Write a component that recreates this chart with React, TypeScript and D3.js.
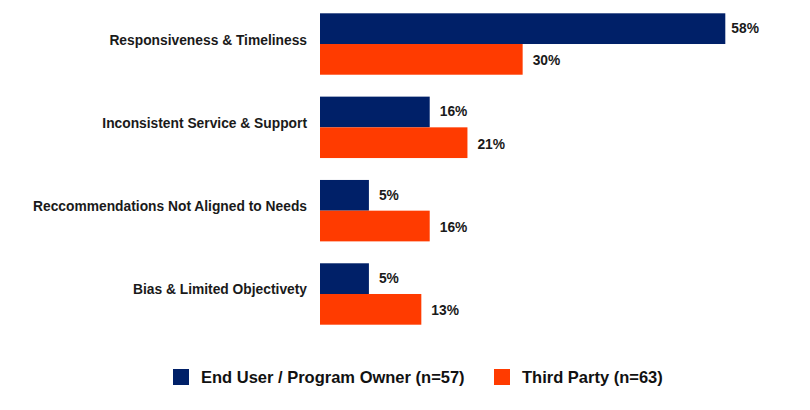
import * as d3 from 'd3';
import React, { useEffect, useRef } from 'react';

const categories = [
  'Responsiveness & Timeliness',
  'Inconsistent Service & Support',
  'Reccommendations Not Aligned to Needs',
  'Bias & Limited Objectivety',
];
const seriesNames = ['End User / Program Owner (n=57)', 'Third Party (n=63)'];
const seriesColors = ['#002068', '#FF3B00'];
// bar lengths (percent)
const endUserValues = [58, 15.7, 7, 7];
const thirdPartyValues = [29, 21.1, 15.7, 14.5];
// printed labels
const endUserLabels = ['58%', '16%', '5%', '5%'];
const thirdPartyLabels = ['30%', '21%', '16%', '13%'];

const W = 810;
const H = 410;

const App = () => {
  const ref = useRef<SVGSVGElement>(null);

  useEffect(() => {
    const svg = d3.select(ref.current);
    svg.selectAll('*').remove();

    const font = "'Liberation Sans', Arial, sans-serif";
    const values = [endUserValues, thirdPartyValues];
    const labels = [endUserLabels, thirdPartyLabels];

    const x = d3.scaleLinear().domain([0, 58]).range([320, 725.3]);
    const y = d3
      .scaleBand<string>()
      .domain(categories)
      .range([13.3, 324.7])
      .paddingInner(0.263)
      .paddingOuter(0);
    const ySub = d3
      .scaleBand<number>()
      .domain([0, 1])
      .range([0, y.bandwidth()])
      .padding(0);

    const groups = svg
      .selectAll('g.cat')
      .data(categories)
      .enter()
      .append('g')
      .attr('class', 'cat')
      .attr('transform', d => `translate(0,${y(d)})`);

    groups
      .append('text')
      .attr('x', 307)
      .attr('y', y.bandwidth() / 2 - 4)
      .attr('text-anchor', 'end')
      .attr('dominant-baseline', 'central')
      .attr('font-family', font)
      .attr('font-weight', 'bold')
      .attr('font-size', 13.8)
      .attr('fill', '#1a1a1a')
      .text(d => d);

    [0, 1].forEach(s => {
      groups
        .append('rect')
        .attr('x', x(0))
        .attr('y', ySub(s))
        .attr('width', (_, i) => x(values[s][i]) - x(0))
        .attr('height', ySub.bandwidth())
        .attr('fill', seriesColors[s]);

      groups
        .append('text')
        .attr('x', (_, i) => x(values[s][i]) + (s === 0 && i === 0 ? 6 : 10))
        .attr('y', ySub(s) + ySub.bandwidth() / 2 + (s === 1 ? 1.5 : 0))
        .attr('dominant-baseline', 'central')
        .attr('font-family', font)
        .attr('font-weight', 'bold')
        .attr('font-size', 13.8)
        .attr('fill', '#1a1a1a')
        .text((_, i) => labels[s][i]);
    });

    // legend
    const legendX = [173, 494];
    seriesNames.forEach((name, s) => {
      svg
        .append('rect')
        .attr('x', legendX[s])
        .attr('y', 369)
        .attr('width', 16)
        .attr('height', 16)
        .attr('fill', seriesColors[s]);
      svg
        .append('text')
        .attr('x', legendX[s] + 28)
        .attr('y', 377)
        .attr('dominant-baseline', 'central')
        .attr('font-family', font)
        .attr('font-weight', 'bold')
        .attr('font-size', 16.5)
        .attr('fill', '#111')
        .text(name);
    });
  }, []);

  return (
    <svg
      ref={ref}
      width={W}
      height={H}
      style={{ position: 'fixed', left: 0, top: 0, background: '#fff' }}
    />
  );
};

export default App;
